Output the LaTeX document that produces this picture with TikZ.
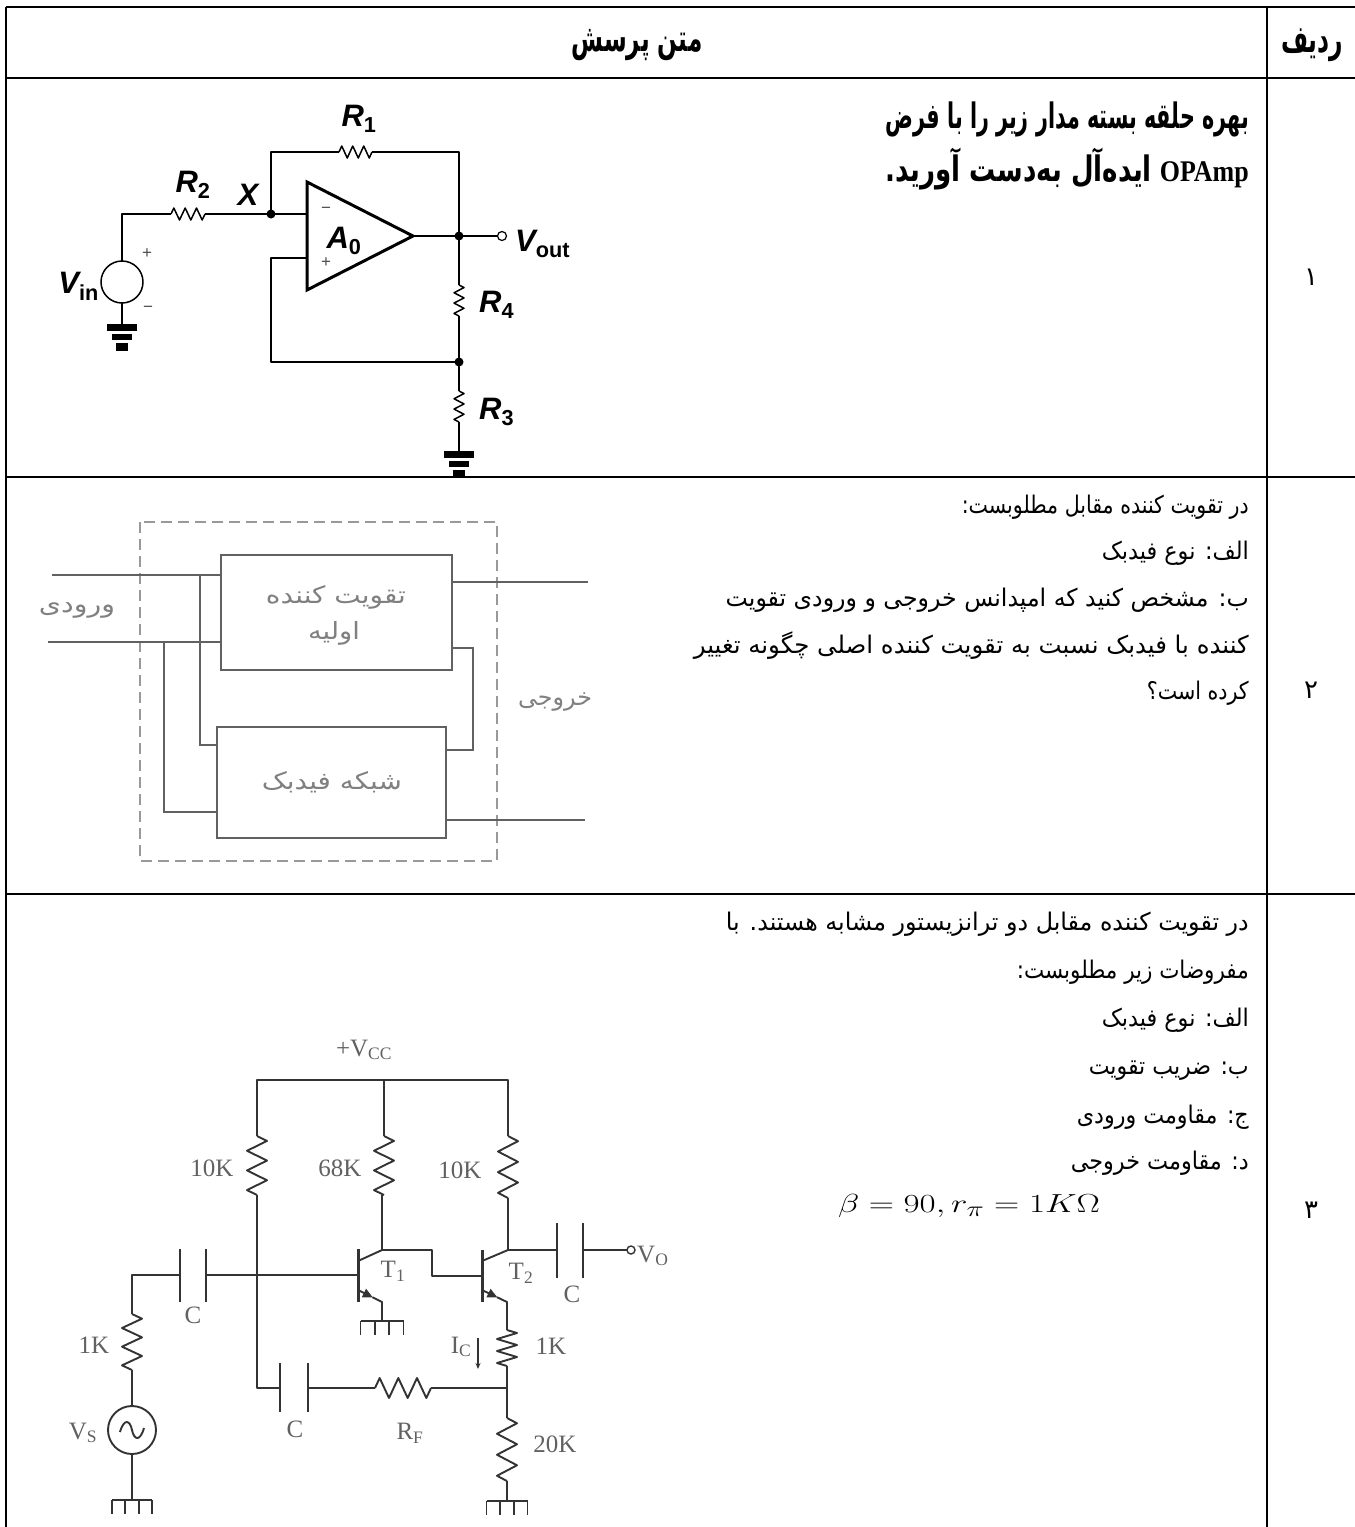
\documentclass[tikz,border=0pt]{standalone}
\usepackage{fontspec}
\usepackage{graphicx}
\setmainfont{Liberation Serif}
\newfontfamily\fa[Script=Arabic]{DejaVu Sans}
\newfontfamily\hel{Liberation Sans}
\newfontfamily\tnr{Liberation Serif}
\TeXXeTstate=1
\usetikzlibrary{arrows.meta,calc}
\colorlet{scanline}{black!62}
\colorlet{scandash}{black!40}
\colorlet{scantext}{black!50}
\colorlet{oldline}{black!80}
\colorlet{oldtext}{black!62}
\newcommand\fitw[2]{\resizebox{#1pt}{1.08\height}{#2}}
\newcommand\fitwh[3]{\resizebox{#1pt}{#2\height}{#3}}
\newcommand\VR[5]{%
  \pgfmathsetmacro\rzH{(#4-#3)/12}%
  \pgfmathsetmacro\rzA{#5}%
  \pgfmathsetmacro\rzB{2*#5}%
  \draw[#1] (#2,#3) -- ++(\rzA,\rzH) -- ++(-\rzB,2*\rzH) -- ++(\rzB,2*\rzH) -- ++(-\rzB,2*\rzH) -- ++(\rzB,2*\rzH) -- ++(-\rzB,2*\rzH) -- ++(\rzA,\rzH);}
\newcommand\HR[5]{%
  \pgfmathsetmacro\rzH{(#4-#3)/12}%
  \pgfmathsetmacro\rzA{#5}%
  \pgfmathsetmacro\rzB{2*#5}%
  \draw[#1] (#3,#2) -- ++(\rzH,-\rzA) -- ++(2*\rzH,\rzB) -- ++(2*\rzH,-\rzB) -- ++(2*\rzH,\rzB) -- ++(2*\rzH,-\rzB) -- ++(2*\rzH,\rzB) -- ++(\rzH,-\rzA);}
\newcommand\gndA[2]{%
  \fill (#1-15,#2) rectangle (#1+15,#2+7);
  \fill (#1-10,#2+10) rectangle (#1+10,#2+16);
  \fill (#1-6,#2+19) rectangle (#1+6,#2+27);}
\newcommand\gndB[3]{%
  \draw[oldw] (#1-#3/2,#2) -- (#1+#3/2,#2);
  \foreach \k in {0,1,2,3} \draw[oldw] ({#1-#3/2+\k*#3/3},#2) -- ++(0,14);}
\newcommand\clab[2]{{\bfseries\itshape #1}\textsubscript{\bfseries #2}}
\tikzset{
  tbl/.style={line width=1.6pt, black},
  wire/.style={line width=1.5pt, black, line join=round},
  sw/.style={line width=1.7pt, scanline},
  oldw/.style={line width=1.9pt, oldline, line join=round},
  fabody/.style={font=\fa\fontsize{22.5}{26}\selectfont, inner sep=0pt, anchor=base east},
  fabold/.style={font=\fa\bfseries\fontsize{27}{31}\selectfont, inner sep=0pt, anchor=base east},
  num/.style={font=\fa\fontsize{26}{30}\selectfont, inner sep=0pt},
  clabel/.style={font=\hel\fontsize{31}{34}\selectfont, inner sep=0pt},
  olab/.style={font=\tnr\fontsize{25}{28}\selectfont, text=oldtext, inner sep=0pt},
  stext/.style={font=\fa\fontsize{22}{26}\selectfont, text=scantext, inner sep=0pt},
  dot/.style={circle, fill=black, inner sep=0pt, minimum size=9pt},
}
\begin{document}
\begin{tikzpicture}[x=1pt,y=-1pt]
\useasboundingbox (0,0) rectangle (1355,1527);
% ---------------- table ----------------
\draw[tbl] (6,7) -- (1355,7);
\draw[tbl] (6,78) -- (1355,78);
\draw[tbl] (6,477) -- (1355,477);
\draw[tbl] (6,894) -- (1355,894);
\draw[tbl] (6,7) -- (6,1527);
\draw[tbl] (1267,7) -- (1267,1527);
% header
\node[font=\fa\bfseries\fontsize{28}{32}\selectfont, inner sep=0pt] (h1) at (637,45) {\fitwh{131}{1.35}{\beginR متن پرسش\endR}};
\node[font=\fa\bfseries\fontsize{28}{32}\selectfont, inner sep=0pt] (h2) at (1312,45) {\fitwh{62}{1.35}{\beginR ردیف\endR}};
% row numbers
\node[num] (n1) at (1311,277) {۱};
\node[num] (n2) at (1311,690) {۲};
\node[num] (n3) at (1311,1210) {۳};
% row 1 text
\node[fabold] (r1a) at (1249,128) {\fitwh{363}{1.3}{\beginR بهره حلقه بسته مدار زیر را با فرض\endR}};
\node[fabold] (r1b) at (1249,181) {\fitwh{266}{1.3}{\beginR ایده‌آل به‌دست آورید.\endR}\hspace{8pt}\resizebox{89pt}{1.2\height}{\tnr\bfseries\fontsize{25}{30}\selectfont OPAmp}};
% row 2 text
\node[fabody] (r2a) at (1249,513) {\fitw{287}{\beginR در تقویت کننده مقابل مطلوبست:\endR}};
\node[fabody] (r2b) at (1249,559) {\fitw{147}{\beginR الف: نوع فیدبک\endR}};
\node[fabody] (r2c) at (1249,606) {\fitw{523}{\beginR ب: مشخص کنید که امپدانس خروجی و ورودی تقویت\endR}};
\node[fabody] (r2d) at (1249,653) {\fitw{555}{\beginR کننده با فیدبک نسبت به تقویت کننده اصلی چگونه تغییر\endR}};
\node[fabody] (r2e) at (1249,699) {\fitw{102}{\beginR کرده است؟\endR}};
% row 3 text
\node[fabody] (r3a) at (1249,930) {\fitw{523}{\beginR در تقویت کننده مقابل دو ترانزیستور مشابه هستند. با\endR}};
\node[fabody] (r3b) at (1249,978) {\fitw{232}{\beginR مفروضات زیر مطلوبست:\endR}};
\node[fabody] (r3c) at (1249,1026) {\fitw{147}{\beginR الف: نوع فیدبک\endR}};
\node[fabody] (r3d) at (1249,1074) {\fitw{160}{\beginR ب: ضریب تقویت\endR}};
\node[fabody] (r3e) at (1249,1123) {\fitw{172}{\beginR ج: مقاومت ورودی\endR}};
\node[fabody] (r3f) at (1249,1169) {\fitw{178}{\beginR د: مقاومت خروجی\endR}};
\node[font=\fontsize{31}{36}\selectfont, inner sep=0pt] (r3g) at (969,1206) {\fitwh{262}{1.05}{$\beta = 90, r_{\pi} = 1K\Omega$}};
% ---------------- circuit 1 ----------------
\coordinate (X) at (271,214);
\coordinate (O) at (459,236);
\coordinate (N) at (459,362);
\draw[wire] (122,261) -- (122,214) -- (171,214);
\HR{wire}{214}{171}{205}{6}
\draw[wire] (205,214) -- (X) -- (307,214);
\draw[wire] (X) -- (271,152) -- (339,152);
\HR{wire}{152}{339}{372}{6}
\draw[wire] (372,152) -- (459,152) -- (O);
\draw[line width=3pt, line join=miter] (307,182) -- (413,236) -- (307,290) -- cycle;
\draw[wire] (413,236) -- (O) -- (497,236);
\draw[line width=1.2pt, fill=white] (502,236) circle (4.5);
\draw[wire] (O) -- (459,285);
\VR{wire}{459}{285}{316}{5}
\draw[wire] (459,316) -- (N);
\draw[wire] (307,258) -- (271,258) -- (271,362) -- (N);
\draw[wire] (N) -- (459,391);
\VR{wire}{459}{391}{422}{5}
\draw[wire] (459,422) -- (459,451);
\gndA{459}{451}
\draw[wire] (122,282) circle (21);
\draw[wire] (122,303) -- (122,324);
\gndA{122}{324}
\node[dot] (dX) at (X) {};
\node[dot] (dO) at (O) {};
\node[dot] (dN) at (N) {};
\node[clabel] (lR1) at (359,119) {\clab{R}{1}};
\node[clabel] (lR2) at (193,185) {\clab{R}{2}};
\node[clabel] (lX) at (248,195) {\bfseries\itshape X};
\node[clabel] (lA) at (344,241) {\clab{A}{0}};
\node[clabel, anchor=west] (lVo) at (515,244) {\clab{V}{out}};
\node[clabel, anchor=east] (lVi) at (99,286) {\clab{V}{in}};
\node[clabel, anchor=west] (lR4) at (479,305) {\clab{R}{4}};
\node[clabel, anchor=west] (lR3) at (479,412) {\clab{R}{3}};
\node[font=\hel\fontsize{17}{19}\selectfont, text=black!70, inner sep=0pt] (pm1) at (326,210) {−};
\node[font=\hel\fontsize{17}{19}\selectfont, text=black!70, inner sep=0pt] (pm2) at (326,263) {+};
\node[font=\hel\fontsize{17}{19}\selectfont, text=black!70, inner sep=0pt] (pm3) at (147,254) {+};
\node[font=\hel\fontsize{17}{19}\selectfont, text=black!70, inner sep=0pt] (pm4) at (148,309) {−};
% ---------------- circuit 2 ----------------
\draw[line width=1.4pt, scandash, dash pattern=on 11pt off 6pt] (140,522) rectangle (497,861);
\node[draw=scanline, line width=1.8pt, minimum width=231pt, minimum height=115pt, inner sep=0pt] (ub) at (336.5,612.5) {};
\node[draw=scanline, line width=1.8pt, minimum width=229pt, minimum height=111pt, inner sep=0pt] (lb) at (331.5,782.5) {};
\node[stext] (ubt1) at (336,597) {\fitw{140}{\beginR تقویت کننده\endR}};
\node[stext] (ubt2) at (334,633) {\fitw{52}{\beginR اولیه\endR}};
\node[stext] (lbt) at (332,782) {\fitw{140}{\beginR شبکه فیدبک\endR}};
\node[stext] (inl) at (77,610) {\fitw{76}{\beginR ورودی\endR}};
\node[stext] (outl) at (555,702) {\fitw{74}{\beginR خروجی\endR}};
\draw[sw] (52,575) -- (221,575);
\draw[sw] (200,575) -- (200,745) -- (217,745);
\draw[sw] (48,642) -- (221,642);
\draw[sw] (164,642) -- (164,812) -- (217,812);
\draw[sw] (452,582) -- (588,582);
\draw[sw] (452,648) -- (473,648) -- (473,750) -- (446,750);
\draw[sw] (446,820) -- (585,820);
% ---------------- circuit 3 ----------------
\draw[oldw] (257,1136) -- (257,1080) -- (508,1080) -- (508,1136);
\draw[oldw] (384,1080) -- (384,1136);
\VR{oldw}{257}{1136}{1195}{10}
\VR{oldw}{384}{1136}{1195}{10}
\VR{oldw}{508}{1136}{1198}{10}
\draw[oldw] (257,1195) -- (257,1388) -- (280,1388);
\draw[line width=2.4pt, oldline] (280,1363) -- (280,1412);
\draw[line width=2.4pt, oldline] (308,1363) -- (308,1412);
\draw[oldw] (308,1388) -- (375,1388);
\HR{oldw}{1388}{375}{431}{10}
\draw[oldw] (431,1388) -- (507,1388);
\draw[oldw] (132,1314) -- (132,1275) -- (180,1275);
\draw[line width=2.4pt, oldline] (180,1249) -- (180,1302);
\draw[line width=2.4pt, oldline] (206,1249) -- (206,1302);
\draw[oldw] (206,1275) -- (358,1275);
\VR{oldw}{132}{1314}{1370}{10}
\draw[oldw] (132,1370) -- (132,1406);
\draw[oldw] (132,1430) circle (24);
\draw[oldw] (120,1432) .. controls (124,1418) and (130,1420) .. (132,1430) .. controls (134,1440) and (140,1442) .. (144,1428);
\draw[oldw] (132,1454) -- (132,1500);
\gndB{132}{1500}{40}
% T1
\draw[line width=3pt, oldline] (358,1249) -- (358,1302);
\draw[oldw] (358,1261) -- (382,1250) -- (382,1195);
\draw[oldw] (382,1250) -- (432,1250) -- (432,1276) -- (482,1276);
\draw[oldw, -{Triangle[length=10pt,width=9pt]}] (358,1290) -- ($(358,1290)!0.62!(382,1302)$);
\draw[oldw] ($(358,1290)!0.6!(382,1302)$) -- (382,1302) -- (382,1321);
\gndB{382}{1321}{43}
% T2
\draw[line width=3pt, oldline] (482,1250) -- (482,1302);
\draw[oldw] (482,1261) -- (508,1250) -- (508,1198);
\draw[oldw] (508,1250) -- (557,1250);
\draw[line width=2.4pt, oldline] (557,1223) -- (557,1278);
\draw[line width=2.4pt, oldline] (583,1223) -- (583,1278);
\draw[oldw] (583,1250) -- (627,1250);
\draw[line width=1.4pt, oldline, fill=white] (631,1250) circle (4);
\draw[oldw, -{Triangle[length=10pt,width=9pt]}] (482,1290) -- ($(482,1290)!0.62!(507,1302)$);
\draw[oldw] ($(482,1290)!0.6!(507,1302)$) -- (507,1302) -- (507,1330);
\VR{oldw}{507}{1330}{1366}{10}
\draw[oldw] (507,1366) -- (507,1418);
\VR{oldw}{507}{1418}{1481}{10}
\draw[oldw] (507,1481) -- (507,1501);
\gndB{507}{1501}{41}
\draw[line width=1.3pt, oldline, -{Stealth[length=6pt,width=5pt]}] (478,1338) -- (478,1369);
% labels circuit 3
\node[olab] (l10a) at (212,1168) {10K};
\node[olab] (l68) at (340,1168) {68K};
\node[olab] (l10b) at (460,1170) {10K};
\node[olab] (l1a) at (94,1345) {1K};
\node[olab] (lc1) at (193,1315) {C};
\node[olab] (lc2) at (295,1429) {C};
\node[olab] (lrf) at (410,1433) {R\textsubscript{F}};
\node[olab] (l1b) at (551,1346) {1K};
\node[olab] (l20) at (555,1444) {20K};
\node[olab] (lt1) at (393,1271) {T\textsubscript{1}};
\node[olab] (lt2) at (521,1273) {T\textsubscript{2}};
\node[olab] (lc3) at (572,1294) {C};
\node[olab, anchor=west] (lvo) at (637,1256) {V\textsubscript{O}};
\node[olab] (lvs) at (83,1433) {V\textsubscript{S}};
\node[olab] (lic) at (461,1347) {I\textsubscript{C}};
\node[olab] (lvcc) at (364,1050) {+V\textsubscript{CC}};
\end{tikzpicture}
\end{document}
